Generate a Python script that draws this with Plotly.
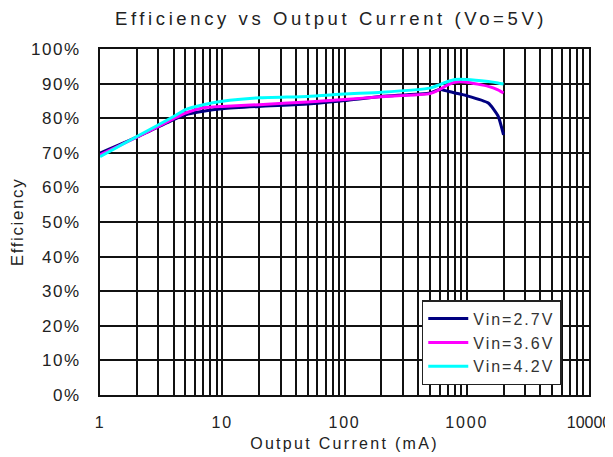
import plotly.graph_objects as go

current_ma = [1, 2, 4, 5, 7, 10, 20, 50, 100, 200, 500, 600, 700, 800, 1000, 1500, 1800, 2000]

eff_27 = [69.9, 74.5, 79.6, 81.0, 82.0, 82.7, 83.4, 84.1, 85.1, 86.3, 87.3, 88.3, 87.8, 87.3, 86.5, 84.4, 80.7, 75.2]
eff_36 = [69.4, 74.5, 79.9, 81.5, 83.0, 83.4, 83.9, 84.7, 85.4, 86.2, 87.1, 88.3, 89.6, 90.4, 90.4, 89.2, 88.2, 87.3]
eff_42 = [68.9, 74.7, 80.5, 82.5, 83.9, 84.9, 85.9, 86.3, 87.0, 87.5, 88.7, 89.7, 90.6, 91.2, 91.2, 90.6, 90.2, 89.9]

series_names = ["Vin=2.7V", "Vin=3.6V", "Vin=4.2V"]
series_colors = ["#000080", "#FF00FF", "#00FFFF"]

x_tickvals = [m * 10 ** k for k in range(4) for m in range(1, 10)] + [10000]
x_major = [1, 10, 100, 1000, 10000]
y_tickvals = list(range(0, 101, 10))


def spaced(text, px):
    return f'<span style="letter-spacing:{px}px">{text}</span>'


x_ticktext = [(spaced(str(v), 1.8) if v < 10000 else str(v)) if v in x_major else "" for v in x_tickvals]
y_ticktext = [spaced(f"{v}%", 1.6) for v in y_tickvals]

fig = go.Figure()
for name, color, ys in zip(series_names, series_colors, [eff_27, eff_36, eff_42]):
    fig.add_trace(go.Scatter(x=current_ma, y=ys, mode="lines", name=spaced(name, 2.0),
                             line=dict(color=color, width=3, shape="spline", smoothing=0.5)))

font_family = "Liberation Sans, Arial, sans-serif"
# page body has an 8px margin, so the figure is sized 605x449 to fill the 613x457 window
fig.update_layout(
    width=605, height=449,
    autosize=False,
    margin=dict(l=92, r=24, t=41, b=62, autoexpand=False),
    paper_bgcolor="white", plot_bgcolor="white",
    font=dict(family=font_family, size=16, color="#222"),
    title=dict(text=spaced("Efficiency vs Output Current (Vo=5V)", 3.6), x=0.534, xanchor="center",
               xref="container", yref="container",
               y=1 - 11 / 449, yanchor="middle", font=dict(size=18.5, color="#222")),
    showlegend=True,
    legend=dict(x=0.658, y=0.274, xanchor="left", yanchor="top",
                bgcolor="white", bordercolor="#222", borderwidth=1.5,
                itemwidth=40, entrywidth=146,
                font=dict(size=16, color="#333"), tracegroupgap=0),
)
fig.update_xaxes(type="log", range=[0, 4], tickvals=x_tickvals, ticktext=x_ticktext,
                 showgrid=True, gridcolor="#111", gridwidth=1.5,
                 showline=True, linecolor="#111", linewidth=1.5, mirror=True,
                 ticks="", zeroline=False, automargin=False, ticklabelstandoff=12,
                 ticklabeloverflow="allow",
                 title=dict(text=spaced("Output Current (mA)", 2.3), standoff=8, font=dict(size=16)))
fig.update_yaxes(range=[0, 100], tickvals=y_tickvals, ticktext=y_ticktext,
                 showgrid=True, gridcolor="#111", gridwidth=1.5,
                 showline=True, linecolor="#111", linewidth=1.5, mirror=True,
                 ticks="", zeroline=False, automargin=False, ticklabelstandoff=14,
                 tickfont=dict(size=17),
                 title=dict(text=spaced("Efficiency", 1.6), standoff=14, font=dict(size=17)))

fig.write_html("out.html")
